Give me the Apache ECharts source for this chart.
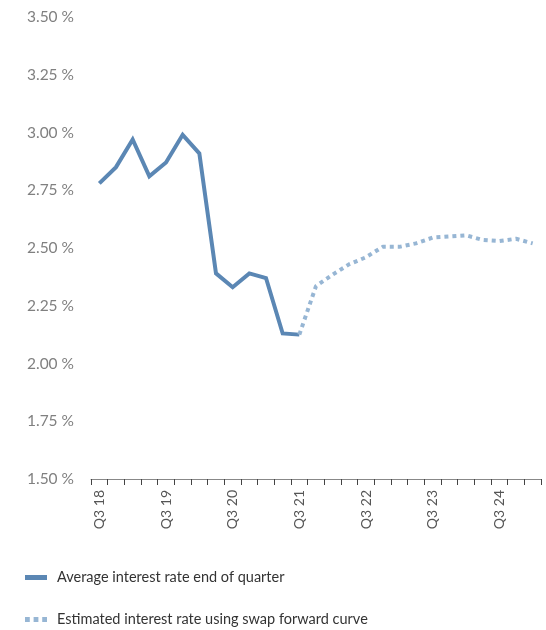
<!DOCTYPE html>
<html>
<head>
<meta charset="utf-8">
<script src="https://cdn.jsdelivr.net/npm/echarts@6/dist/echarts.min.js"></script>
<style>
html, body { margin: 0; padding: 0; background: #fff; }
#chart { width: 546px; height: 630px; }
</style>
</head>
<body>
<div id="chart"></div>
<script>
// quarters on the x axis
var quarters = ['Q3 18','Q4 18','Q1 19','Q2 19','Q3 19','Q4 19','Q1 20','Q2 20',
	'Q3 20','Q4 20','Q1 21','Q2 21','Q3 21','Q4 21','Q1 22','Q2 22','Q3 22','Q4 22',
	'Q1 23','Q2 23','Q3 23','Q4 23','Q1 24','Q2 24','Q3 24','Q4 24','Q1 25'];

// average interest rate end of quarter (%)
var actualRate = [2.78, 2.85, 2.97, 2.81, 2.87, 2.99, 2.91, 2.39, 2.33, 2.39, 2.37, 2.13, 2.125,
	'-', '-', '-', '-', '-', '-', '-', '-', '-', '-', '-', '-', '-', '-'];

// estimated interest rate using swap forward curve (%)
var estimatedRate = ['-', '-', '-', '-', '-', '-', '-', '-', '-', '-', '-', '-', 2.125,
	2.335, 2.385, 2.43, 2.46, 2.505, 2.505, 2.52, 2.545, 2.55, 2.555, 2.535, 2.53, 2.54, 2.52];

var seriesNames = ['Average interest rate end of quarter', 'Estimated interest rate using swap forward curve'];

var solidColor = '#5b87b4';
var dotColor = '#97b6d4';

var chart = echarts.init(document.getElementById('chart'));

var option = {
	animation: false,
	textStyle: { fontFamily: 'Lato' },
	grid: {
		left: 91,
		right: 5,
		top: 17,
		bottom: 151
	},
	legend: {
		orient: 'vertical',
		left: 25,
		top: 570,
		padding: 0,
		itemWidth: 22,
		itemHeight: 5,
		itemGap: 27,
		textStyle: { fontSize: 14.5, color: '#333', fontFamily: 'Lato', padding: [0, 0, 0, 5] },
		data: [
			{ name: seriesNames[0], icon: 'rect' },
			{ name: seriesNames[1], icon: 'path://M0,0h5v5h-5z M9,0h5v5h-5z M18,0h5v5h-5z' }
		]
	},
	xAxis: {
		type: 'category',
		boundaryGap: true,
		data: quarters,
		axisLine: { lineStyle: { color: '#888', width: 1 } },
		axisTick: { show: true, interval: 0, length: 6, lineStyle: { color: '#444' } },
		axisLabel: {
			interval: 3,
			rotate: 90,
			margin: 11,
			fontSize: 14,
			color: '#555',
			fontFamily: 'Lato'
		},
		splitLine: { show: false }
	},
	yAxis: {
		type: 'value',
		min: 1.5,
		max: 3.5,
		interval: 0.25,
		axisLine: { show: false },
		axisTick: { show: false },
		splitLine: { show: false },
		axisLabel: {
			margin: 17,
			fontSize: 15.5,
			color: '#808080',
			fontFamily: 'Lato',
			formatter: function (v) { return v.toFixed(2) + ' %'; }
		}
	},
	series: [
		{
			name: seriesNames[0],
			type: 'line',
			data: actualRate,
			symbol: 'none',
			itemStyle: { color: solidColor },
			lineStyle: { width: 4, color: solidColor, join: 'miter' }
		},
		{
			name: seriesNames[1],
			type: 'line',
			data: estimatedRate,
			symbol: 'none',
			itemStyle: { color: dotColor },
			lineStyle: { width: 4, color: dotColor, type: [4, 4], cap: 'butt' }
		}
	]
};

chart.setOption(option);
</script>
</body>
</html>
